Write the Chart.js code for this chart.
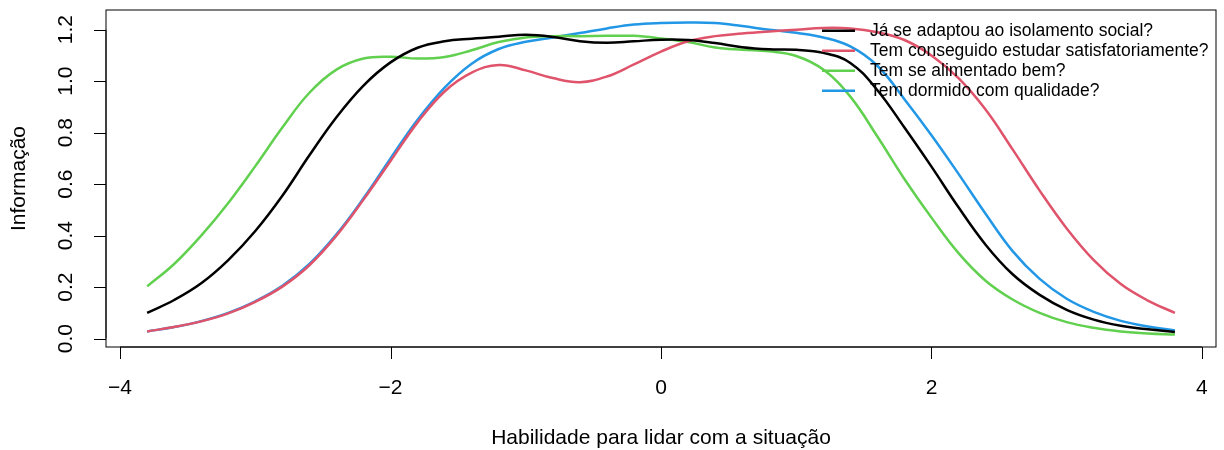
<!DOCTYPE html>
<html>
<head>
<meta charset="utf-8">
<script src="https://cdn.jsdelivr.net/npm/chart.js@4"></script>
<style>
  body { margin: 0; background: #fff; }
</style>
</head>
<body>
<canvas id="area-grafico" width="1224" height="450"></canvas>
<script>

// habilidade (theta)
const theta = [-3.8, -3.6, -3.4, -3.2, -3.0, -2.8, -2.6, -2.4, -2.2, -2.0,
               -1.8, -1.6, -1.4, -1.2, -1.0, -0.8, -0.6, -0.4, -0.2, 0.0,
               0.2, 0.4, 0.6, 0.8, 1.0, 1.2, 1.4, 1.6, 1.8, 2.0,
               2.2, 2.4, 2.6, 2.8, 3.0, 3.2, 3.4, 3.6, 3.8];

// informação de cada item
const infoAdaptou = [0.100, 0.150, 0.215, 0.305, 0.418, 0.555, 0.712, 0.860, 0.983, 1.073,
                     1.130, 1.155, 1.165, 1.173, 1.180, 1.172, 1.155, 1.149, 1.155, 1.161,
                     1.160, 1.148, 1.132, 1.124, 1.122, 1.110, 1.071, 0.965, 0.820, 0.668,
                     0.510, 0.365, 0.250, 0.170, 0.112, 0.074, 0.050, 0.036, 0.026];

const infoEstudar = [0.028, 0.045, 0.067, 0.098, 0.143, 0.202, 0.285, 0.400, 0.540, 0.690,
                     0.840, 0.960, 1.033, 1.063, 1.042, 1.012, 0.996, 1.018, 1.065, 1.115,
                     1.155, 1.175, 1.185, 1.193, 1.200, 1.207, 1.205, 1.190, 1.160, 1.100,
                     1.012, 0.890, 0.735, 0.575, 0.428, 0.305, 0.212, 0.148, 0.100];

const infoAlimentado = [0.203, 0.290, 0.400, 0.527, 0.670, 0.820, 0.955, 1.045, 1.088, 1.095,
                        1.088, 1.094, 1.120, 1.152, 1.170, 1.175, 1.175, 1.176, 1.176, 1.166,
                        1.152, 1.131, 1.122, 1.116, 1.098, 1.045, 0.940, 0.785, 0.620, 0.470,
                        0.332, 0.225, 0.152, 0.100, 0.064, 0.042, 0.028, 0.020, 0.016];

const infoDormido = [0.028, 0.045, 0.068, 0.100, 0.145, 0.205, 0.290, 0.405, 0.545, 0.700,
                     0.850, 0.975, 1.068, 1.125, 1.153, 1.170, 1.187, 1.205, 1.220, 1.226,
                     1.228, 1.226, 1.214, 1.200, 1.188, 1.170, 1.135, 1.060, 0.930, 0.790,
                     0.640, 0.485, 0.340, 0.232, 0.155, 0.104, 0.069, 0.047, 0.032];

const itens = ['Já se adaptou ao isolamento social?',
               'Tem conseguido estudar satisfatoriamente?',
               'Tem se alimentado bem?',
               'Tem dormido com qualidade?'];

const cores = ['#000000', '#DF536B', '#61D04F', '#2297E6'];

const ticksX = [-4, -2, 0, 2, 4];
const labelsX = ['\u22124', '\u22122', '0', '2', '4'];
const ticksY = [0, 0.2, 0.4, 0.6, 0.8, 1.0, 1.2];
const labelsY = ['0.0', '0.2', '0.4', '0.6', '0.8', '1.0', '1.2'];

const tituloX = 'Habilidade para lidar com a situação';
const tituloY = 'Informação';

const fonte = '"Liberation Sans", Arial, Helvetica, sans-serif';

function montarPontos(valores) {
    return theta.map((t, i) => ({ x: t, y: valores[i] }));
}

// eixos no estilo do R base (caixa, ticks para fora, rótulos verticais)
const eixosR = {
    id: 'eixosR',
    afterDatasetsDraw(chart) {
        const ctx = chart.ctx;
        const area = chart.chartArea;
        const sx = chart.scales.x;
        const sy = chart.scales.y;

        ctx.save();
        ctx.strokeStyle = '#000';
        ctx.lineWidth = 1;
        ctx.strokeRect(area.left, area.top, area.right - area.left, area.bottom - area.top);

        ctx.fillStyle = '#000';
        ctx.font = '21px ' + fonte;

        // eixo x
        ctx.beginPath();
        ctx.moveTo(sx.getPixelForValue(ticksX[0]), area.bottom);
        ctx.lineTo(sx.getPixelForValue(ticksX[ticksX.length - 1]), area.bottom);
        ticksX.forEach((v) => {
            const px = Math.round(sx.getPixelForValue(v)) + 0.5;
            ctx.moveTo(px, area.bottom);
            ctx.lineTo(px, area.bottom + 12);
        });
        ctx.stroke();
        ctx.textAlign = 'center';
        ctx.textBaseline = 'alphabetic';
        ticksX.forEach((v, i) => {
            ctx.fillText(labelsX[i], sx.getPixelForValue(v), 394);
        });

        // eixo y
        ctx.beginPath();
        ctx.moveTo(area.left, sy.getPixelForValue(ticksY[0]));
        ctx.lineTo(area.left, sy.getPixelForValue(ticksY[ticksY.length - 1]));
        ticksY.forEach((v) => {
            const py = Math.round(sy.getPixelForValue(v)) + 0.5;
            ctx.moveTo(area.left - 12, py);
            ctx.lineTo(area.left, py);
        });
        ctx.stroke();
        ticksY.forEach((v, i) => {
            ctx.save();
            ctx.translate(72, sy.getPixelForValue(v));
            ctx.rotate(-Math.PI / 2);
            ctx.fillText(labelsY[i], 0, 0);
            ctx.restore();
        });

        // títulos
        ctx.fillText(tituloX, (area.left + area.right) / 2, 444);
        ctx.save();
        ctx.translate(25, (area.top + area.bottom) / 2);
        ctx.rotate(-Math.PI / 2);
        ctx.fillText(tituloY, 0, 0);
        ctx.restore();

        // legenda sem caixa
        ctx.font = '17.5px ' + fonte;
        ctx.textAlign = 'left';
        ctx.textBaseline = 'middle';
        ctx.lineWidth = 2.5;
        chart.data.datasets.forEach((ds, i) => {
            const yy = 30.7 + i * 20;
            ctx.strokeStyle = ds.borderColor;
            ctx.beginPath();
            ctx.moveTo(822, yy);
            ctx.lineTo(855, yy);
            ctx.stroke();
            ctx.fillText(ds.label, 870, yy);
        });
        ctx.restore();
    }
};

const series = [infoAdaptou, infoEstudar, infoAlimentado, infoDormido];

const ctx = document.getElementById('area-grafico');
const myChart = new Chart(ctx, {
    type: 'line',
    data: {
        datasets: series.map((s, i) => ({
            label: itens[i],
            data: montarPontos(s),
            borderColor: cores[i],
            borderWidth: 2.5,
            pointRadius: 0,
            fill: false,
            tension: 0.4
        }))
    },
    options: {
        responsive: false,
        animation: false,
        devicePixelRatio: 1,
        layout: { padding: { left: 106, right: 8, top: 10, bottom: 103 } },
        plugins: { legend: { display: false }, tooltip: { enabled: false } },
        scales: {
            x: { type: 'linear', min: -4.104, max: 4.104, display: false },
            y: { min: -0.0325, max: 1.2765, display: false }
        }
    },
    plugins: [eixosR]
});
</script>
</body>
</html>
